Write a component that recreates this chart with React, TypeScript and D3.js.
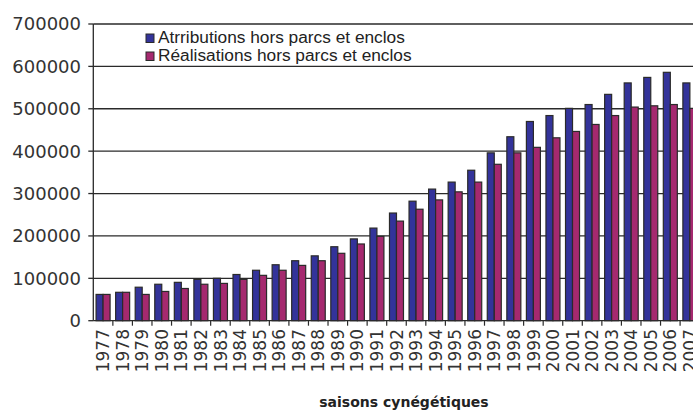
import React from "react";
import * as d3 from "d3";

const years = [
  "1977","1978","1979","1980","1981","1982","1983","1984","1985","1986",
  "1987","1988","1989","1990","1991","1992","1993","1994","1995","1996",
  "1997","1998","1999","2000","2001","2002","2003","2004","2005","2006","2007",
];
const attributions = [
  62000, 67000, 79000, 86000, 90500, 97500, 100000, 109000, 119000, 132000,
  141500, 153000, 174500, 193000, 218500, 254000, 282000, 310500, 327000, 355000,
  396000, 434000, 470000, 484000, 501000, 510000, 534000, 561000, 574000, 586000, 561000,
];
const realisations = [
  62000, 67000, 62000, 69000, 76000, 86000, 88000, 97500, 107000, 119000,
  130500, 141500, 159000, 181000, 199000, 235000, 263000, 285000, 304000, 327000,
  369000, 396000, 409000, 431500, 446500, 463000, 484000, 504000, 507000, 510000, 501000,
];
const yTicks = [0, 100000, 200000, 300000, 400000, 500000, 600000, 700000];
const seriesNames = ["Atrributions hors parcs et enclos", "Réalisations hors parcs et enclos"];
const seriesColors = ["#33339A", "#A5296F"];
const xTitle = "saisons cynégétiques";

export default function App() {
  const W = 693, H = 410;
  const x0 = 93.3, step = 19.56;
  const x = d3.scaleBand<string>().domain(years).range([x0, x0 + step * years.length]).padding(0);
  const y = d3.scaleLinear().domain([0, 700000]).range([320.7, 24]);
  const bw = 7;
  const axisFont = "DejaVu Sans, sans-serif";
  return (
    <svg width={W} height={H} style={{ position: "absolute", left: 0, top: 0, background: "#fff" }}>
      {/* gridlines */}
      {yTicks.map((t) => (
        <line key={"g" + t} x1={x0} x2={x0 + step * years.length} y1={y(t)} y2={y(t)} stroke="#2a2a2a" strokeWidth={1.3} />
      ))}
      {/* y axis */}
      <line x1={x0} x2={x0} y1={y(700000)} y2={y(0)} stroke="#2a2a2a" strokeWidth={1.3} />
      {yTicks.map((t) => (
        <g key={"t" + t}>
          <line x1={x0 - 5} x2={x0} y1={y(t)} y2={y(t)} stroke="#2a2a2a" strokeWidth={1.3} />
          <text x={81} y={y(t)} dy="0.36em" textAnchor="end" fontFamily={axisFont} fontSize={18} fill="#333">
            {t}
          </text>
        </g>
      ))}
      {/* bars */}
      {years.map((yr, i) => {
        const c = (x(yr) as number) + x.bandwidth() / 2;
        return (
          <g key={yr}>
            <rect x={c - bw} y={y(attributions[i])} width={bw} height={y(0) - y(attributions[i])} fill={seriesColors[0]} stroke="#2a2a2a" strokeWidth={1.2} />
            <rect x={c} y={y(realisations[i])} width={bw} height={y(0) - y(realisations[i])} fill={seriesColors[1]} stroke="#2a2a2a" strokeWidth={1.2} />
          </g>
        );
      })}
      {/* x ticks */}
      {years.map((yr) => (
        <line key={"xt" + yr} x1={(x(yr) as number) + step} x2={(x(yr) as number) + step} y1={y(0)} y2={y(0) + 5} stroke="#2a2a2a" strokeWidth={1.2} />
      ))}
      {years.map((yr) => {
        const c = (x(yr) as number) + x.bandwidth() / 2;
        return (
          <text key={"xl" + yr} transform={`translate(${c},329) rotate(-90)`} dy="0.36em" textAnchor="end" fontFamily={axisFont} fontSize={17} fill="#333">
            {yr}
          </text>
        );
      })}
      {/* legend */}
      {seriesNames.map((n, i) => (
        <g key={n}>
          <rect x={146} y={34 + i * 18} width={8} height={8.5} fill={seriesColors[i]} stroke="#2a2a2a" strokeWidth={1} />
          <text x={158} y={43 + i * 18} fontFamily="Liberation Sans, Arial, sans-serif" fontSize={17.3} fill="#222">
            {n}
          </text>
        </g>
      ))}
      <text x={404} y={407} textAnchor="middle" fontFamily={axisFont} fontWeight="bold" fontSize={14} fill="#222">
        {xTitle}
      </text>
    </svg>
  );
}
